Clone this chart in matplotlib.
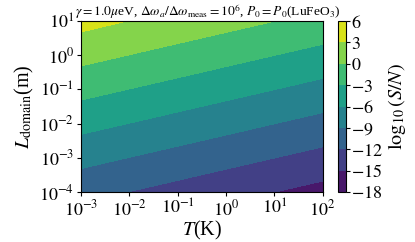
import numpy as np
import matplotlib
matplotlib.use("Agg")
import matplotlib.pyplot as plt

plt.rcParams['font.family'] = ['serif']
plt.rcParams['font.serif'] = ['Liberation Serif', 'DejaVu Serif']
plt.rcParams['mathtext.fontset'] = 'stix'

# Data: log10(S/N) at decade grid points
log_T = [-3, -2, -1, 0, 1, 2]          # log10 T [K]
log_L = [-4, -3, -2, -1, 0, 1]         # log10 L_domain [m]
log_SN = [
    [-11.06, -12.04, -13.02, -14.00, -14.98, -15.96],  # L = 1e-4
    [-8.06,  -9.04,  -10.02, -11.00, -11.98, -12.96],  # L = 1e-3
    [-5.06,  -6.04,  -7.02,  -8.00,  -8.98,  -9.96],   # L = 1e-2
    [-2.06,  -3.04,  -4.02,  -5.00,  -5.98,  -6.96],   # L = 1e-1
    [0.94,   -0.04,  -1.02,  -2.00,  -2.98,  -3.96],   # L = 1e0
    [3.94,    2.96,   1.98,   1.00,   0.02,  -0.96],   # L = 1e1
]
levels = [-18, -15, -12, -9, -6, -3, 0, 3, 6]
cbar_tick_labels = [r"$-18$", r"$-15$", r"$-12$", r"$-9$", r"$-6$", r"$-3$", r"$0$", r"$3$", r"$6$"]
x_tick_labels = [r"$10^{-3}$", r"$10^{-2}$", r"$10^{-1}$", r"$10^{0}$", r"$10^{1}$", r"$10^{2}$"]
y_tick_labels = [r"$10^{-4}$", r"$10^{-3}$", r"$10^{-2}$", r"$10^{-1}$", r"$10^{0}$", r"$10^{1}$"]

W, H = 415, 242
fig = plt.figure(figsize=(W / 100, H / 100), dpi=100)
ax = fig.add_axes([81 / W, 1 - 192 / H, 241.5 / W, 171 / H])
cax = fig.add_axes([337.5 / W, 1 - 192 / H, 8 / W, 171 / H])

X, Y = np.meshgrid(log_T, log_L)
cs = ax.contourf(X, Y, np.array(log_SN), levels=levels, cmap='viridis')

ax.set_xlim(log_T[0], log_T[-1])
ax.set_ylim(log_L[0], log_L[-1])
ax.set_xticks(log_T)
ax.set_xticklabels(x_tick_labels)
ax.set_yticks(log_L)
ax.set_yticklabels(y_tick_labels)
ax.tick_params(labelsize=13, length=3, pad=2)

ax.set_xlabel(r"$T$(K)", fontsize=14.5, labelpad=0)
ax.set_ylabel(r"$L_{\rm domain}$(m)", fontsize=14.5, labelpad=2)
ax.set_title(r"$\gamma=1.0\mu$eV, $\Delta\omega_a/\Delta\omega_{\rm meas}=10^6$, $P_0=P_0$(LuFeO$_3$)",
             fontsize=9.7, pad=1, x=(207.5 - 81) / 241.5)

cb = fig.colorbar(cs, cax=cax, ticks=levels)
cb.ax.set_yticklabels(cbar_tick_labels)
cb.ax.tick_params(labelsize=13, length=3, pad=1)
cb.set_label(r"$\log_{10}(S/N)$", fontsize=14.5, labelpad=2)

fig.savefig("out.png", dpi=100)
